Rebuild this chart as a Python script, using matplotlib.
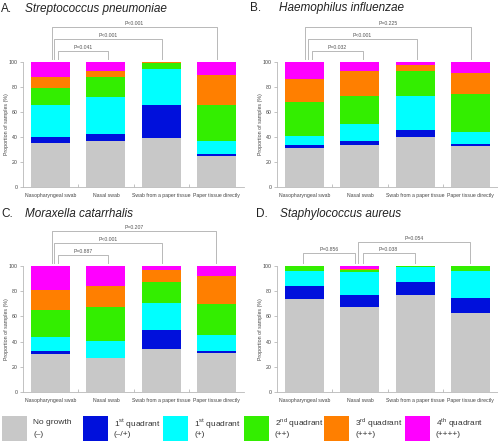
import matplotlib
matplotlib.use("Agg")
import matplotlib.pyplot as plt
from matplotlib.patches import Rectangle
import numpy as np

plt.rcParams['font.family'] = ['Liberation Sans', 'DejaVu Sans']
plt.rcParams['mathtext.fontset'] = 'custom'
plt.rcParams['mathtext.rm'] = 'Liberation Sans'

sample_types = ['Nasopharyngeal swab', 'Nasal swab', 'Swab from a paper tissue', 'Paper tissue directly']
grade_names = ['No growth', r'1$^{\mathrm{st}}$ quadrant', r'1$^{\mathrm{st}}$ quadrant',
               r'2$^{\mathrm{nd}}$ quadrant', r'3$^{\mathrm{rd}}$ quadrant', r'4$^{\mathrm{th}}$ quadrant']
grade_marks = ['(\u2013)', '(\u2013/+)', '(+)', '(++)', '(+++)', '(++++)']
grade_colors = ['#c8c8c8', '#0010dc', '#00ffff', '#33ee00', '#ff7f00', '#ff00ff']

# proportion (%) per growth grade, rows = grade, columns = sample type
s_pneumoniae = [[35.5, 37.0, 39.4, 25.0],
                [4.7, 5.8, 25.9, 1.6],
                [25.3, 29.0, 29.0, 10.2],
                [13.5, 16.5, 4.7, 28.7],
                [9.3, 4.7, 1.0, 24.3],
                [11.7, 7.0, 0.0, 10.2]]
h_influenzae = [[31.0, 34.0, 40.0, 32.6],
                [3.0, 2.8, 6.0, 1.6],
                [6.5, 13.9, 26.8, 10.2],
                [27.9, 22.1, 19.9, 30.0],
                [18.3, 19.9, 4.7, 17.0],
                [13.3, 7.3, 2.6, 8.6]]
m_catarrhalis = [[30.0, 26.8, 34.5, 31.3],
                 [2.9, 0.0, 15.0, 1.3],
                 [10.5, 13.5, 21.3, 12.4],
                 [21.3, 27.3, 16.6, 24.5],
                 [16.6, 16.9, 9.2, 22.3],
                 [18.7, 15.5, 3.4, 8.2]]
s_aureus = [[73.5, 67.7, 76.6, 63.0],
            [10.5, 8.9, 10.5, 12.0],
            [12.3, 18.4, 12.1, 21.3],
            [3.7, 1.6, 0.8, 3.7],
            [0.0, 1.3, 0.0, 0.0],
            [0.0, 2.1, 0.0, 0.0]]

# significance brackets: (left x, right x, height, label)
brackets_a = [(0.14, 1.04, 109, 'P=0.041'), (0.07, 2.02, 118.5, 'P<0.001'), (0.03, 3.01, 128, 'P<0.001')]
brackets_b = [(0.13, 1.05, 109, 'P=0.032'), (0.06, 2.03, 118.5, 'P<0.001'), (0.01, 3.01, 128, 'P=0.225')]
brackets_c = [(0.14, 1.04, 109, 'P=0.887'), (0.07, 2.02, 118.5, 'P<0.001'), (0.03, 3.0, 127.5, 'P=0.207')]
brackets_d = [(-0.03, 0.91, 110, 'P=0.856'), (1.05, 1.99, 110, 'P=0.038'), (0.97, 3.0, 119, 'P=0.054')]

W, H = 498, 441
fig = plt.figure(figsize=(W / 100, H / 100), dpi=100)

panels = [
    ('A.', 'Streptococcus pneumoniae', s_pneumoniae, brackets_a, (23, 62, 187), (1, 25, 9)),
    ('B.', 'Haemophilus influenzae', h_influenzae, brackets_b, (277, 62, 187), (250, 279, 8)),
    ('C.', 'Moraxella catarrhalis', m_catarrhalis, brackets_c, (23, 266, 392), (1, 25, 214)),
    ('D.', 'Staphylococcus aureus', s_aureus, brackets_d, (277, 266, 392), (256, 280, 214)),
]

line_col = '#b8b8b8'
for letter, name, data, brackets, (x0, ytop, ybot), (lx, tx, ty) in panels:
    ax = fig.add_axes([x0 / W, 1 - ybot / H, 221 / W, (ybot - ytop) / H])
    x = np.arange(len(sample_types))
    bottom = np.zeros(len(sample_types))
    for vals, col in zip(data, grade_colors):
        vals = np.array(vals)
        ax.bar(x, vals, width=0.71, bottom=bottom, color=col, linewidth=0)
        bottom += vals
    ax.set_xlim(-0.5, 3.5)
    ax.set_ylim(0, 100)
    ax.set_yticks(range(0, 101, 20))
    ax.set_xticks(x)
    ax.set_xticklabels(sample_types)
    ax.set_xticks([0.5, 1.5, 2.5], minor=True)
    ax.tick_params(axis='x', which='major', length=0, pad=4.5, labelsize=3.7, labelcolor='#444444')
    ax.tick_params(axis='x', which='minor', length=2, direction='in', color=line_col)
    ax.tick_params(axis='y', length=2, width=0.6, color=line_col, pad=2, labelsize=3.8, labelcolor='#444444')
    ax.set_ylabel('Proportion of samples (%)', fontsize=3.8, color='#444444')
    ax.yaxis.set_label_coords(-0.065, 0.5)
    for s in ['top', 'right']:
        ax.spines[s].set_visible(False)
    for s in ['left', 'bottom']:
        ax.spines[s].set_color(line_col)
        ax.spines[s].set_linewidth(0.6)

    for bx1, bx2, bh, lab in brackets:
        ax.plot([bx1, bx1, bx2, bx2], [102.5, bh, bh, 102.5], color=line_col, lw=0.7, clip_on=False)
        ax.text((bx1 + bx2) / 2, bh + 0.8, lab, ha='center', va='bottom', fontsize=3.7,
                color='#555555', clip_on=False)

    fig.text(lx / W, 1 - ty / H, letter, fontsize=8.5, va='center', ha='left', color='#222222')
    fig.text(tx / W, 1 - ty / H, name, fontsize=8.5, style='italic', va='center', ha='left', color='#222222')

# legend strip at the bottom
lax = fig.add_axes([0, 0, 1, 26 / H])
lax.set_xlim(0, W)
lax.set_ylim(26, 0)
lax.axis('off')
for i, (name, mark, col) in enumerate(zip(grade_names, grade_marks, grade_colors)):
    left = 2 + i * 80.6
    lax.add_patch(Rectangle((left, 1), 25, 25, color=col, linewidth=0))
    lax.text(left + 31, 8, name, fontsize=6, va='center', ha='left', color='#333333')
    lax.text(left + 31, 20, mark, fontsize=6, va='center', ha='left', color='#333333')

plt.savefig('out.png', dpi=100)
